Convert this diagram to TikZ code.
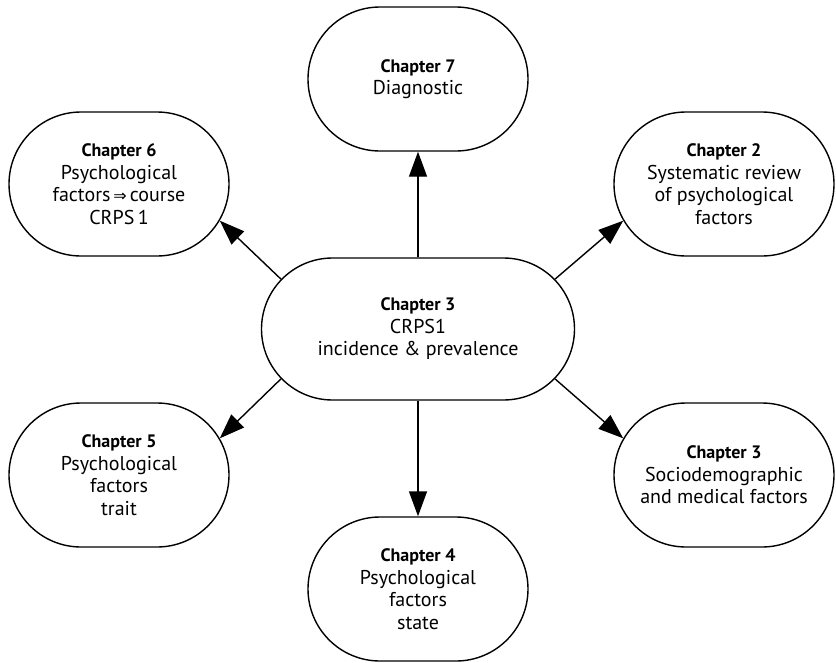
\documentclass[tikz,border=0pt]{standalone}
\usepackage{fontspec}
\setmainfont{PT Sans}
\newfontfamily\symbolfont{DejaVu Sans}
\usetikzlibrary{shapes.misc,arrows.meta}
\newcommand\chaptitle[1]{{\fontsize{18}{22}\selectfont\bfseries #1}}
\newcommand\implarrow{{\symbolfont\fontsize{16}{22}\selectfont ⇒}}
\begin{document}
\begin{tikzpicture}[x=1pt,y=-1pt,
  box/.style={rounded rectangle, draw, line width=1.4pt, minimum width=220pt,
    minimum height=144pt, align=center, inner sep=0pt,
    font=\fontsize{20}{22.5}\selectfont},
  conn/.style={line width=1.4pt, -{Triangle[length=25pt,width=18pt]}}]
\fill[white] (0,0) rectangle (836,662);
\useasboundingbox (0,0) rectangle (836,662);
\node[box, minimum width=313pt, minimum height=142pt] (c) at (418,329)
  {\chaptitle{Chapter 3}\\CRPS1\\incidence \& prevalence};
\node[box] (ch7) at (418,79) {\chaptitle{Chapter 7}\\Diagnostic};
\node[box] (ch6) at (119,184) {\chaptitle{Chapter 6}\\Psychological\\factors\kern3pt\implarrow\kern3pt course\\CRPS\,1};
\node[box] (ch2) at (724,184) {\chaptitle{Chapter 2}\\Systematic review\\of psychological\\factors};
\node[box] (ch5) at (119,475) {\chaptitle{Chapter 5}\\Psychological\\factors\\trait};
\node[box] (ch3b) at (724,475) {\chaptitle{Chapter 3}\\Sociodemographic\\and medical factors};
\node[box] (ch4) at (418,589) {\chaptitle{Chapter 4}\\Psychological\\factors\\state};
\draw[conn] (c.north) -- (ch7.south);
\draw[conn] (c.south) -- (ch4.north);
\draw[conn] (c.160) -- (ch6.-20);
\draw[conn] (c.20) -- (ch2.200);
\draw[conn] (c.200) -- (ch5.20);
\draw[conn] (c.-20) -- (ch3b.160);
\end{tikzpicture}
\end{document}
